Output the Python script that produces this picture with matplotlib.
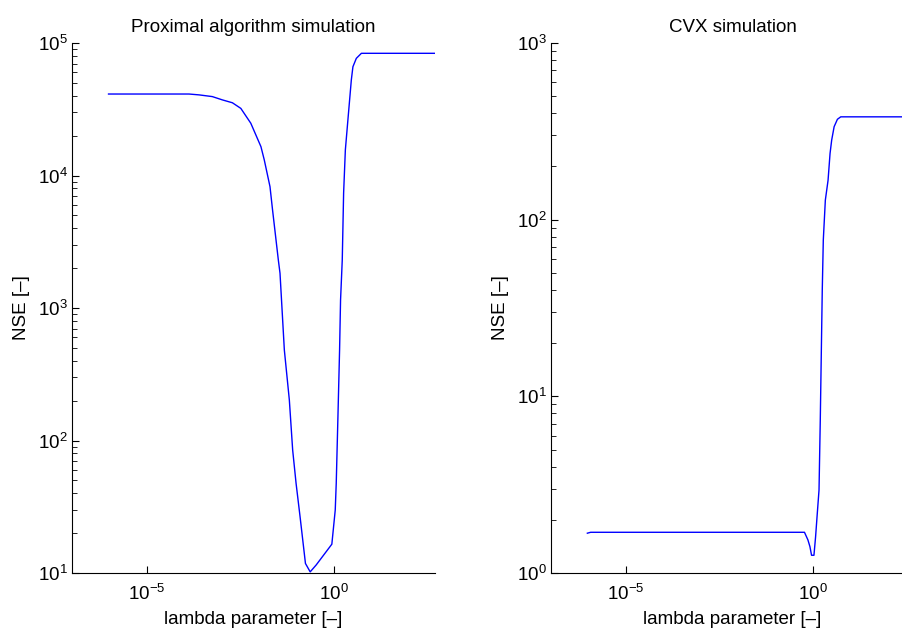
import matplotlib
matplotlib.use("Agg")
import matplotlib.pyplot as plt
from matplotlib.ticker import FixedLocator, NullLocator, LogLocator, LogFormatterMathtext

plt.rcParams['font.family'] = ['Liberation Sans', 'DejaVu Sans']
plt.rcParams['mathtext.fontset'] = 'custom'
plt.rcParams['mathtext.rm'] = 'Liberation Sans'
plt.rcParams['mathtext.it'] = 'Liberation Sans'
plt.rcParams['mathtext.default'] = 'regular'

# Proximal algorithm simulation
prox_lambda = [9.5e-7, 1.35e-4, 2.5e-4, 5.7e-4, 1.06e-3, 1.96e-3, 3.3e-3, 6.1e-3,
               0.0114, 0.0140, 0.0199, 0.0233, 0.0333, 0.0369, 0.0482, 0.0656,
               0.0805, 0.0993, 0.127, 0.177, 0.237, 0.343, 0.90, 1.11, 1.18,
               1.31, 1.45, 1.54, 1.71, 1.86, 2.07, 2.42, 2.99, 3.30, 4.07, 5.56, 519]
prox_nse = [41200, 41200, 40600, 39400, 37200, 35400, 32100, 24800,
            16500, 13100, 8240, 5500, 2300, 1830, 482, 202,
            84.7, 47.5, 26.6, 11.8, 10.2, 11.5, 16.5, 29.9, 47.5,
            151, 482, 1150, 2300, 7380, 15600, 26200, 52600, 66200, 76600, 83600, 83600]

# CVX simulation
cvx_lambda = [9.4e-7, 1.15e-6, 0.608, 0.751, 0.851, 0.940, 1.09, 1.205, 1.34, 1.49,
              1.61, 1.72, 1.82, 1.94, 2.20, 2.60, 2.94, 3.25, 3.78, 4.63, 5.69, 519]
cvx_nse = [1.68, 1.70, 1.70, 1.54, 1.41, 1.26, 1.26, 1.60, 2.18, 2.95,
           7.35, 18.3, 40.0, 76.7, 129, 167, 237, 282, 336, 370, 382, 382]

titles = ["Proximal algorithm simulation", "CVX simulation"]
xlabel = "lambda parameter [\u2013]"
ylabel = "NSE [\u2013]"
xticks = [1e-5, 1e0]
xlim = (1e-7, 519)
ylims = [(1e1, 1e5), (1e0, 1e3)]

W, H = 902, 630
fig = plt.figure(figsize=(W / 100, H / 100), dpi=100)
ax1 = fig.add_axes([72 / W, (H - 573) / H, 363 / W, 530 / H])
ax2 = fig.add_axes([551 / W, (H - 573) / H, 363 / W, 530 / H])

fs = 13.5
for ax, lam, nse, title, yl in [(ax1, prox_lambda, prox_nse, titles[0], ylims[0]),
                                (ax2, cvx_lambda, cvx_nse, titles[1], ylims[1])]:
    ax.plot(lam, nse, color=(0, 0, 1), lw=1.0)
    ax.set_xscale('log')
    ax.set_yscale('log')
    ax.set_xlim(*xlim)
    ax.set_ylim(*yl)
    ax.xaxis.set_major_locator(FixedLocator(xticks))
    ax.xaxis.set_minor_locator(NullLocator())
    ax.xaxis.set_major_formatter(LogFormatterMathtext())
    ax.yaxis.set_major_locator(LogLocator(base=10, numticks=10))
    ax.yaxis.set_minor_locator(LogLocator(base=10, subs=range(2, 10), numticks=10))
    ax.spines['top'].set_visible(False)
    ax.spines['right'].set_visible(False)
    for s in ['left', 'bottom']:
        ax.spines[s].set_linewidth(0.8)
        ax.spines[s].set_color('black')
    ax.tick_params(which='both', direction='in', colors='black', labelsize=fs)
    ax.tick_params(which='major', length=5, width=0.8)
    ax.tick_params(which='minor', length=3.5, width=0.6)
    ax.tick_params(axis='x', which='major', pad=7.5)
    ax.tick_params(axis='y', which='major', pad=3)
    ax.set_title(title, fontsize=fs, pad=8)
    ax.set_xlabel(xlabel, fontsize=fs)
    ax.set_ylabel(ylabel, fontsize=fs)
    ax.xaxis.set_label_coords(0.5, (573 - 611) / 530)
    ax.yaxis.set_label_coords((30 - 72) / 363, 0.5)

fig.savefig("out.png", dpi=100)
